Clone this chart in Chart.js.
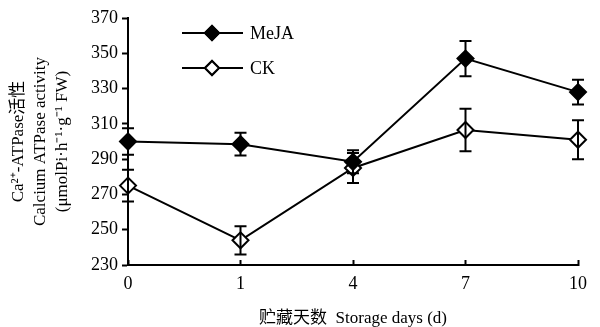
<!DOCTYPE html>
<html>
<head>
<meta charset="utf-8">
<script src="https://cdn.jsdelivr.net/npm/chart.js@4/dist/chart.umd.min.js"></script>
<style>
  html, body { margin: 0; padding: 0; background: #fff; }
  #wrap { width: 600px; height: 327px; }
</style>
</head>
<body>
<div id="wrap"><canvas id="atpaseChart" width="600" height="327"></canvas></div>
<script>
const days = ["0", "1", "4", "7", "10"];
const mejaValues = [300, 298.5, 288.5, 347, 328];
const mejaErrors = [7.5, 6.5, 6.5, 10, 7];
const ckValues = [275, 244, 285, 306.5, 301];
const ckErrors = [9, 8, 8.5, 12, 11];
const yTicks = [230, 250, 270, 290, 310, 330, 350, 370];

const serif = "'Liberation Serif', 'Noto Sans CJK SC', serif";

// error bars, drawn on top of the marks (they show through the open diamonds)
const errorBarPlugin = {
  id: "errorBars",
  afterDatasetsDraw(chart) {
    const ctx = chart.ctx;
    const x = chart.scales.x;
    const y = chart.scales.y;
    const sets = [[mejaValues, mejaErrors], [ckValues, ckErrors]];
    ctx.save();
    ctx.strokeStyle = "#000";
    ctx.lineWidth = 2;
    sets.forEach(([vals, errs]) => {
      vals.forEach((v, i) => {
        const px = x.getPixelForValue(i);
        const top = y.getPixelForValue(v + errs[i]);
        const bottom = y.getPixelForValue(v - errs[i]);
        ctx.beginPath();
        ctx.moveTo(px, top);
        ctx.lineTo(px, bottom);
        ctx.moveTo(px - 6, top);
        ctx.lineTo(px + 6, top);
        ctx.moveTo(px - 6, bottom);
        ctx.lineTo(px + 6, bottom);
        ctx.stroke();
      });
    });
    ctx.restore();
  },
};

// legend inside the plot: line with a marker in the middle
const insideLegendPlugin = {
  id: "insideLegend",
  afterDraw(chart) {
    const ctx = chart.ctx;
    const rows = [
      { ds: chart.data.datasets[0], y: 33 },
      { ds: chart.data.datasets[1], y: 68 },
    ];
    ctx.save();
    rows.forEach(({ ds, y }) => {
      ctx.strokeStyle = "#000";
      ctx.lineWidth = 2;
      ctx.beginPath();
      ctx.moveTo(182, y);
      ctx.lineTo(243, y);
      ctx.stroke();
      Chart.helpers.drawPoint(ctx, {
        pointStyle: "rectRot",
        radius: 7,
        borderWidth: 2,
        rotation: 0,
      }, 212, y);
      ctx.fillStyle = ds.pointBackgroundColor;
      ctx.strokeStyle = "#000";
      ctx.fill();
      ctx.stroke();
      ctx.fillStyle = "#000";
      ctx.font = "18px " + serif;
      ctx.textBaseline = "middle";
      ctx.fillText(ds.label, 250, y + 1);
    });
    ctx.restore();
  },
};

new Chart(document.getElementById("atpaseChart"), {
  type: "line",
  data: {
    labels: days,
    datasets: [
      {
        label: "MeJA",
        data: mejaValues,
        borderColor: "#000",
        borderWidth: 2,
        pointStyle: "rectRot",
        pointRadius: 8,
        pointBorderWidth: 2,
        pointBorderColor: "#000",
        pointBackgroundColor: "#000",
        tension: 0,
      },
      {
        label: "CK",
        data: ckValues,
        borderColor: "#000",
        borderWidth: 2,
        pointStyle: "rectRot",
        pointRadius: 8,
        pointBorderWidth: 2,
        pointBorderColor: "#000",
        pointBackgroundColor: "#fff",
        tension: 0,
      },
    ],
  },
  options: {
    responsive: false,
    animation: false,
    layout: { padding: { top: 18, right: 8, left: 0, bottom: 0 } },
    plugins: {
      legend: { display: false },
      tooltip: { enabled: false },
    },
    scales: {
      x: {
        type: "category",
        offset: false,
        grid: {
          drawOnChartArea: false,
          drawTicks: true,
          tickLength: -5,
          tickWidth: 2,
          tickColor: "#000",
        },
        border: { color: "#000", width: 2 },
        ticks: {
          color: "#000",
          padding: 13,
          maxRotation: 0,
          font: { family: serif, size: 18 },
        },
        title: {
          display: true,
          text: "贮藏天数  Storage days (d)",
          color: "#000",
          font: { family: serif, size: 17, lineHeight: 1.0 },
          padding: { top: 4, bottom: 0 },
        },
        afterFit(scale) {
          scale.height = 62;
        },
      },
      y: {
        min: 230,
        max: 370,
        afterBuildTicks(scale) {
          scale.ticks = yTicks.map((v) => ({ value: v }));
        },
        grid: {
          drawOnChartArea: false,
          drawTicks: true,
          tickLength: 6,
          tickWidth: 2,
          tickColor: "#000",
        },
        border: { color: "#000", width: 2 },
        ticks: {
          color: "#000",
          padding: 4,
          font: { family: serif, size: 18 },
        },
        title: {
          display: true,
          text: ["Ca²⁺-ATPase活性", "Calcium ATPase activity", "(μmolPi·h⁻¹·g⁻¹ FW)"],
          color: "#000",
          font: { family: serif, size: 17, lineHeight: 1.3 },
          padding: { top: 7, bottom: 0 },
        },
        afterFit(scale) {
          scale.width = 128;
        },
      },
    },
  },
  plugins: [errorBarPlugin, insideLegendPlugin],
});
</script>
</body>
</html>
